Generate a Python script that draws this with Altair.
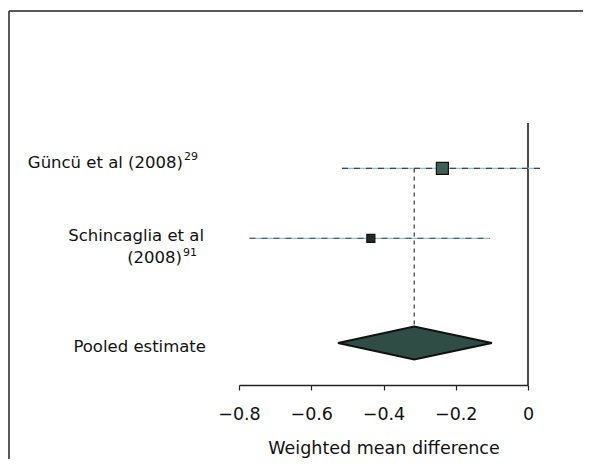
import altair as alt
import pandas as pd

# ---- data ----
studies = ["Güncü et al (2008)", "Schincaglia et al"]
study_sup = ["29", "91"]
study_est = [-0.237, -0.435]
study_lo = [-0.515, -0.771]
study_hi = [0.033, -0.105]
study_weight = [69.2, 30.8]
study_row = [4.0, 3.0]

pooled_label = "Pooled estimate"
pooled_est = -0.315
pooled_lo = -0.526
pooled_hi = -0.100
pooled_row = 1.5

x_ticks = [-0.8, -0.6, -0.4, -0.2, 0]
x_title = "Weighted mean difference"

FONT = "DejaVu Sans"
Y_DOMAIN = [0.9, 4.65]
HALF_H = 0.236

studies_df = pd.DataFrame({
    "study": studies, "est": study_est, "lo": study_lo, "hi": study_hi,
    "w": study_weight, "row": study_row,
    "fill": ["#3f5f55", "#1e2a26"],
})
diamond_df = pd.DataFrame({
    "x": [pooled_lo, pooled_est, pooled_hi],
    "ytop": [pooled_row, pooled_row + HALF_H, pooled_row],
    "ybot": [pooled_row, pooled_row - HALF_H, pooled_row],
})
zero_df = pd.DataFrame({"x": [0], "y": [Y_DOMAIN[0]], "y2": [Y_DOMAIN[1]]})
vline_df = pd.DataFrame({"x": [pooled_est], "y": [study_row[0]], "y2": [pooled_row + HALF_H]})

xscale = alt.Scale(domain=[-0.8, 0], nice=False, zero=False)
yscale = alt.Scale(domain=Y_DOMAIN, nice=False, zero=False)

xaxis = alt.Axis(values=x_ticks, format=".1~f", title=x_title, grid=False,
                 domainColor="#222", domainWidth=1.3, tickColor="#222", tickSize=5,
                 tickWidth=1.2, labelFont=FONT, labelFontSize=17.5, labelColor="#111",
                 labelPadding=15, labelFlush=False, labelOverlap=False,
                 titleFont=FONT, titleFontSize=17.5,
                 titleFontWeight="normal", titleColor="#111", titlePadding=17)

zero_line = alt.Chart(zero_df).mark_rule(color="#111", strokeWidth=1.5).encode(
    x=alt.X("x:Q", scale=xscale, axis=xaxis),
    y=alt.Y("y:Q", scale=yscale, axis=None), y2="y2:Q")

vline = alt.Chart(vline_df).mark_rule(color="#333", strokeWidth=1.2, strokeDash=[4, 4]).encode(
    x=alt.X("x:Q", scale=xscale), y=alt.Y("y:Q", scale=yscale), y2="y2:Q")

ci_blue = alt.Chart(studies_df).mark_rule(color="#8dbfd6", strokeWidth=1.2).encode(
    x=alt.X("lo:Q", scale=xscale), x2="hi:Q", y=alt.Y("row:Q", scale=yscale))
ci_dark = alt.Chart(studies_df).mark_rule(color="#444", strokeWidth=1.1, strokeDash=[6, 6]).encode(
    x=alt.X("lo:Q", scale=xscale), x2="hi:Q", y=alt.Y("row:Q", scale=yscale))

squares = alt.Chart(studies_df).mark_square(stroke="#111", strokeWidth=1.2, opacity=1).encode(
    x=alt.X("est:Q", scale=xscale), y=alt.Y("row:Q", scale=yscale),
    size=alt.Size("w:Q", scale=alt.Scale(domain=[0, 100], range=[0, 208], zero=True), legend=None),
    fill=alt.Fill("fill:N", scale=None))

diamond = alt.Chart(diamond_df).mark_area(color="#2f4d44", stroke="#111", strokeWidth=2,
                                          strokeJoin="miter", opacity=1).encode(
    x=alt.X("x:Q", scale=xscale), y=alt.Y("ytop:Q", scale=yscale), y2="ybot:Q")

def label(txt, row, xpx, align, dy, size=16.5):
    df = pd.DataFrame({"t": [txt], "row": [row]})
    return alt.Chart(df).mark_text(align=align, baseline="middle", font=FONT, fontSize=size,
                                   color="#111", dy=dy).encode(
        x=alt.value(xpx), y=alt.Y("row:Q", scale=yscale), text="t:N")

labels = [
    label(studies[0], study_row[0], -56, "right", -5),
    label(study_sup[0], study_row[0], -55, "left", -11, 11),
    label(studies[1], study_row[1], -35, "right", -2),
    label("(2008)", study_row[1], -57, "right", 20),
    label(study_sup[1], study_row[1], -56, "left", 15, 11),
    label(pooled_label, pooled_row, -33, "right", 4),
]

frame_top = alt.Chart(zero_df).mark_rule(color="#222", strokeWidth=1.5).encode(
    x=alt.value(-230), x2=alt.value(400), y=alt.value(-112))
frame_left = alt.Chart(zero_df).mark_rule(color="#222", strokeWidth=1.5).encode(
    x=alt.value(-230), y=alt.value(-112), y2=alt.value(400))

chart = alt.layer(zero_line, vline, ci_blue, ci_dark, diamond, squares, *labels,
                  frame_top, frame_left).properties(
    width=289, height=262,
    padding={"left": 231, "top": 115, "right": 55, "bottom": 74},
    autosize=alt.AutoSizeParams(type="none"),
    background="white",
).configure_view(stroke=None)

chart.save("out.html", embed_options={"renderer": "svg", "actions": False})
